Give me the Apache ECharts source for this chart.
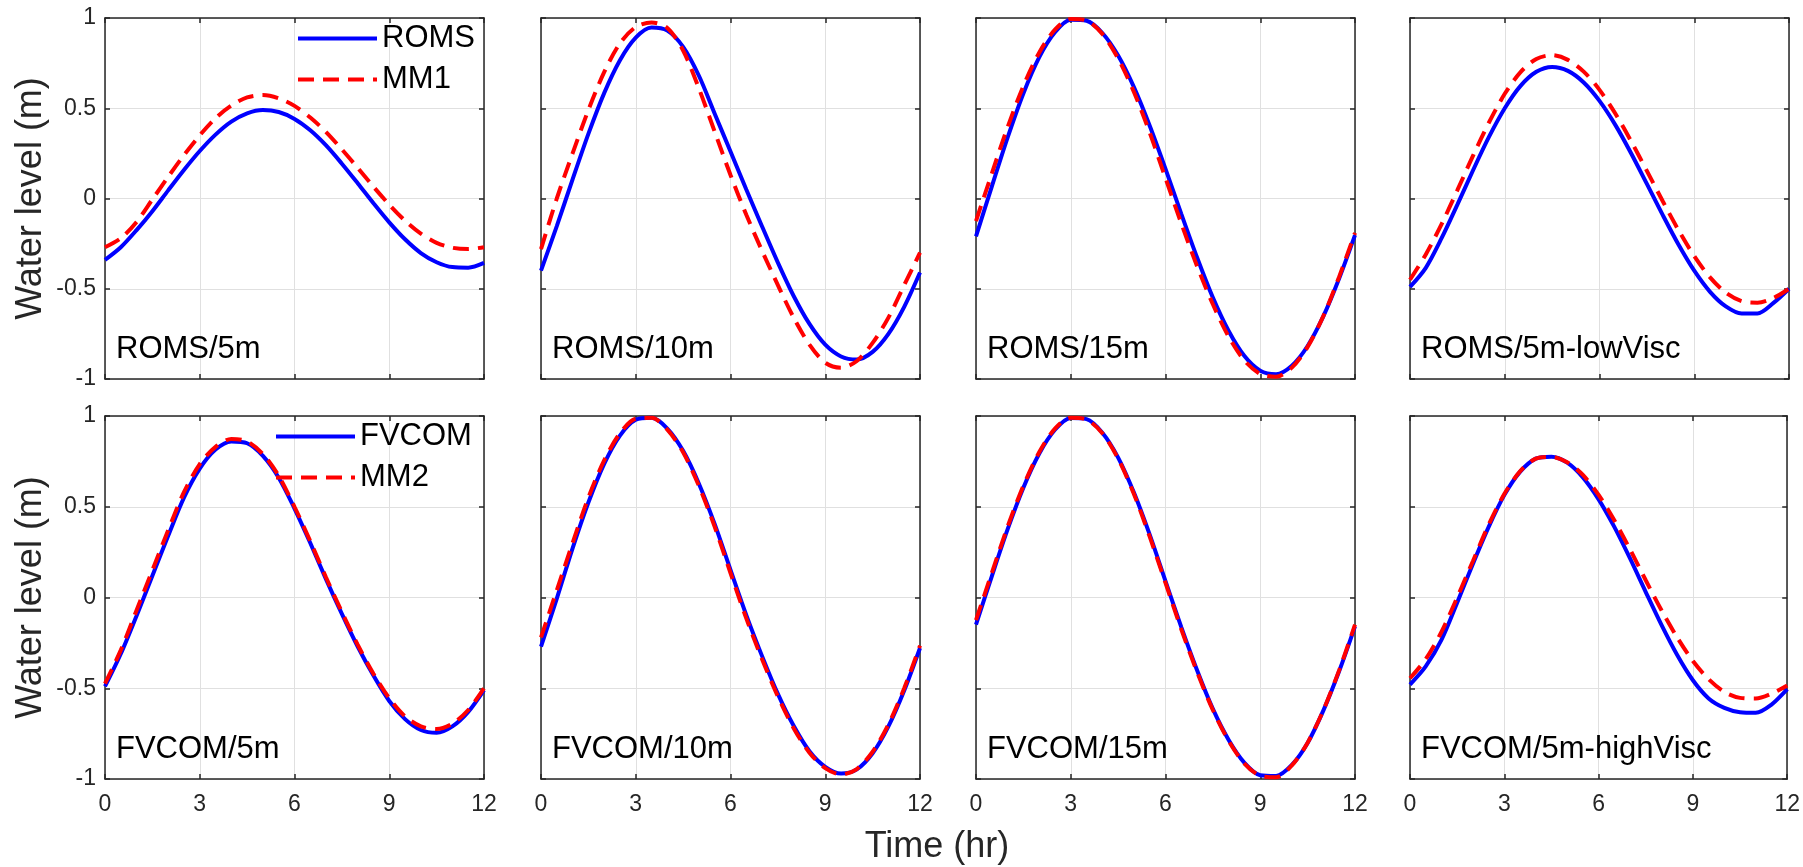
<!DOCTYPE html>
<html><head><meta charset="utf-8">
<script src="https://cdn.jsdelivr.net/npm/echarts@6/dist/echarts.min.js"></script>
<style>html,body{margin:0;padding:0;background:#fff}#c{width:1803px;height:867px}</style>
</head><body><div id="c"></div>
<script>
// ---------------- data ----------------
const time = [0,0.5,1,1.5,2,2.5,3,3.5,4,4.5,5,5.5,6,6.5,7,7.5,8,8.5,9,9.5,10,10.5,11,11.5,12];
const xTickValues = [0,3,6,9,12];
const panelLabels = ['ROMS/5m','ROMS/10m','ROMS/15m','ROMS/5m-lowVisc','FVCOM/5m','FVCOM/10m','FVCOM/15m','FVCOM/5m-highVisc'];
const topNames = ['ROMS','MM1'];
const bottomNames = ['FVCOM','MM2'];

const roms5m      = [-0.34,-0.27,-0.175,-0.07,0.045,0.158,0.263,0.354,0.426,0.472,0.49,0.479,0.441,0.378,0.294,0.193,0.085,-0.026,-0.132,-0.226,-0.302,-0.353,-0.38,-0.383,-0.357];
const mm1_5m      = [-0.27,-0.22,-0.13,-0.005,0.12,0.24,0.35,0.445,0.515,0.56,0.573,0.555,0.513,0.449,0.368,0.272,0.17,0.065,-0.034,-0.123,-0.195,-0.246,-0.273,-0.28,-0.27];
const roms10m     = [-0.40,-0.153,0.106,0.358,0.584,0.766,0.891,0.947,0.93,0.84,0.68,0.47,0.26,0.05,-0.155,-0.355,-0.54,-0.695,-0.81,-0.875,-0.892,-0.85,-0.75,-0.60,-0.41];
const mm1_10m     = [-0.28,0.0,0.25,0.49,0.70,0.86,0.95,0.975,0.945,0.82,0.61,0.37,0.13,-0.09,-0.29,-0.48,-0.66,-0.81,-0.91,-0.937,-0.90,-0.80,-0.66,-0.48,-0.30];
const roms15m     = [-0.21,0.066,0.337,0.582,0.782,0.921,0.99,0.985,0.917,0.792,0.617,0.403,0.164,-0.085,-0.327,-0.549,-0.734,-0.873,-0.954,-0.973,-0.926,-0.817,-0.652,-0.442,-0.203];
const mm1_15m     = [-0.125,0.138,0.395,0.623,0.808,0.935,0.995,0.986,0.912,0.776,0.59,0.365,0.113,-0.138,-0.375,-0.586,-0.766,-0.898,-0.972,-0.988,-0.937,-0.822,-0.65,-0.433,-0.19];
const romsLowVisc = [-0.49,-0.384,-0.22,-0.034,0.158,0.341,0.5,0.624,0.702,0.729,0.707,0.643,0.541,0.408,0.251,0.081,-0.091,-0.255,-0.40,-0.517,-0.598,-0.637,-0.637,-0.58,-0.50];
const mm1_lowVisc = [-0.45,-0.31,-0.142,0.046,0.239,0.421,0.58,0.70,0.773,0.794,0.768,0.703,0.602,0.471,0.318,0.153,-0.014,-0.175,-0.319,-0.437,-0.522,-0.569,-0.577,-0.552,-0.50];

const fvcom5m      = [-0.49,-0.31,-0.10,0.12,0.34,0.55,0.71,0.815,0.86,0.85,0.78,0.66,0.49,0.30,0.10,-0.09,-0.27,-0.43,-0.57,-0.67,-0.73,-0.745,-0.71,-0.63,-0.51];
const mm2_5m       = [-0.475,-0.29,-0.07,0.15,0.37,0.58,0.735,0.83,0.873,0.86,0.79,0.67,0.50,0.31,0.11,-0.08,-0.26,-0.42,-0.555,-0.655,-0.71,-0.725,-0.695,-0.62,-0.50];
const fvcom10m     = [-0.27,-0.006,0.271,0.523,0.736,0.892,0.979,0.99,0.931,0.808,0.627,0.404,0.152,-0.097,-0.323,-0.531,-0.707,-0.847,-0.933,-0.97,-0.947,-0.858,-0.71,-0.512,-0.278];
const mm2_10m      = [-0.22,0.04,0.30,0.55,0.755,0.905,0.985,0.99,0.925,0.80,0.615,0.39,0.135,-0.115,-0.34,-0.545,-0.72,-0.855,-0.94,-0.975,-0.945,-0.85,-0.70,-0.50,-0.265];
const fvcom15m     = [-0.149,0.117,0.375,0.605,0.792,0.924,0.989,0.983,0.908,0.771,0.578,0.346,0.09,-0.163,-0.401,-0.614,-0.785,-0.911,-0.979,-0.983,-0.922,-0.801,-0.622,-0.405,-0.159];
const mm2_15m      = [-0.125,0.135,0.39,0.615,0.80,0.93,0.99,0.98,0.905,0.765,0.57,0.335,0.08,-0.175,-0.41,-0.62,-0.79,-0.915,-0.982,-0.99,-0.925,-0.80,-0.62,-0.40,-0.15];
const fvcomHighVisc= [-0.48,-0.38,-0.234,-0.029,0.185,0.388,0.564,0.692,0.765,0.776,0.743,0.662,0.541,0.389,0.215,0.03,-0.151,-0.317,-0.456,-0.556,-0.608,-0.632,-0.635,-0.59,-0.505];
const mm2_highVisc = [-0.445,-0.34,-0.19,0.0,0.20,0.40,0.57,0.695,0.765,0.775,0.745,0.675,0.565,0.425,0.265,0.095,-0.07,-0.22,-0.35,-0.45,-0.52,-0.553,-0.557,-0.53,-0.485];

const modelSeries = [roms5m, roms10m, roms15m, romsLowVisc, fvcom5m, fvcom10m, fvcom15m, fvcomHighVisc];
const mmSeries    = [mm1_5m, mm1_10m, mm1_15m, mm1_lowVisc, mm2_5m, mm2_10m, mm2_15m, mm2_highVisc];

// ---------------- layout / style ----------------
const FONT = '"Liberation Sans", Arial, Helvetica, sans-serif';
const colLeft = [105, 541, 976, 1410];
const gridW = 379;
const rowTop = [18, 416];
const rowH = [361, 363];
const axisColor = '#262626';
const gridColor = '#e0e0e0';

const grids = [], xAxes = [], yAxes = [], series = [], graphics = [];
const pairs = (arr) => time.map((t, k) => [t, arr[k]]);

for (let i = 0; i < 8; i++) {
  const row = i < 4 ? 0 : 1, col = i % 4;
  grids.push({left: colLeft[col], top: rowTop[row], width: gridW, height: rowH[row], show: false});
  const common = {
    type: 'value', gridIndex: i, min: 0, max: 12, interval: 3,
    axisLine: {show: true, onZero: false, lineStyle: {color: axisColor, width: 1.5}},
    axisTick: {show: true, inside: true, length: 5, lineStyle: {color: axisColor, width: 1.5}},
  };
  xAxes.push(Object.assign({}, common, {
    position: 'bottom',
    axisLabel: {show: row === 1, fontSize: 23, color: axisColor, fontFamily: FONT, margin: 14,
      customValues: xTickValues},
    splitLine: {show: true, lineStyle: {color: gridColor, width: 1}}
  }));
  xAxes.push(Object.assign({}, common, {
    position: 'top', axisLabel: {show: false}, splitLine: {show: false}
  }));
  const ycommon = {
    type: 'value', gridIndex: i, min: -1, max: 1, interval: 0.5,
    axisLine: {show: true, onZero: false, lineStyle: {color: axisColor, width: 1.5}},
    axisTick: {show: true, inside: true, length: 5, lineStyle: {color: axisColor, width: 1.5}},
  };
  const yLeft = Object.assign({}, ycommon, {
    position: 'left',
    axisLabel: {show: col === 0, fontSize: 23, color: axisColor, fontFamily: FONT, margin: 9},
    splitLine: {show: true, lineStyle: {color: gridColor, width: 1}}
  });
  if (col === 0) {
    yLeft.name = 'Water level (m)';
    yLeft.nameLocation = 'middle';
    yLeft.nameGap = 56;
    yLeft.nameRotate = 90;
    yLeft.nameTextStyle = {fontSize: 36, color: axisColor, fontFamily: FONT};
  }
  yAxes.push(yLeft);
  yAxes.push(Object.assign({}, ycommon, {position: 'right', axisLabel: {show: false}, splitLine: {show: false}}));

  const names = row === 0 ? topNames : bottomNames;
  series.push({
    name: names[0], type: 'line', xAxisIndex: 2 * i, yAxisIndex: 2 * i,
    data: pairs(modelSeries[i]), symbol: 'none', showSymbol: false, smooth: 0.3,
    lineStyle: {color: '#0000ff', width: 4}, itemStyle: {color: '#0000ff'}, z: 3
  });
  series.push({
    name: names[1], type: 'line', xAxisIndex: 2 * i, yAxisIndex: 2 * i,
    data: pairs(mmSeries[i]), symbol: 'none', showSymbol: false, smooth: 0.3,
    lineStyle: {color: '#ff0000', width: 4, type: [16, 9]}, itemStyle: {color: '#ff0000'}, z: 4
  });

  graphics.push({
    type: 'text', left: colLeft[col] + 11, top: rowTop[row] + rowH[row] - 45, z: 10,
    style: {text: panelLabels[i], fontSize: 31, fill: '#000', fontFamily: FONT}
  });
}

graphics.push({
  type: 'text', x: 937, y: 847, z: 10,
  style: {text: 'Time (hr)', fontSize: 36, fill: axisColor, fontFamily: FONT, align: 'center', verticalAlign: 'middle'}
});

const legendBase = {
  orient: 'vertical', itemWidth: 79, itemHeight: 14, itemGap: 10, padding: 0,
  selectedMode: false, textStyle: {fontSize: 31, color: '#000', fontFamily: FONT},
  itemStyle: {opacity: 0},
  lineStyle: {width: 4}
};

const option = {
  animation: false,
  backgroundColor: '#ffffff',
  grid: grids, xAxis: xAxes, yAxis: yAxes, series: series,
  legend: [
    Object.assign({}, legendBase, {data: topNames, left: 296, top: 23}),
    Object.assign({}, legendBase, {data: bottomNames, left: 274, top: 421})
  ],
  graphic: graphics
};

const chart = echarts.init(document.getElementById('c'), null, {renderer: 'canvas'});
chart.setOption(option);
</script>
</body></html>
